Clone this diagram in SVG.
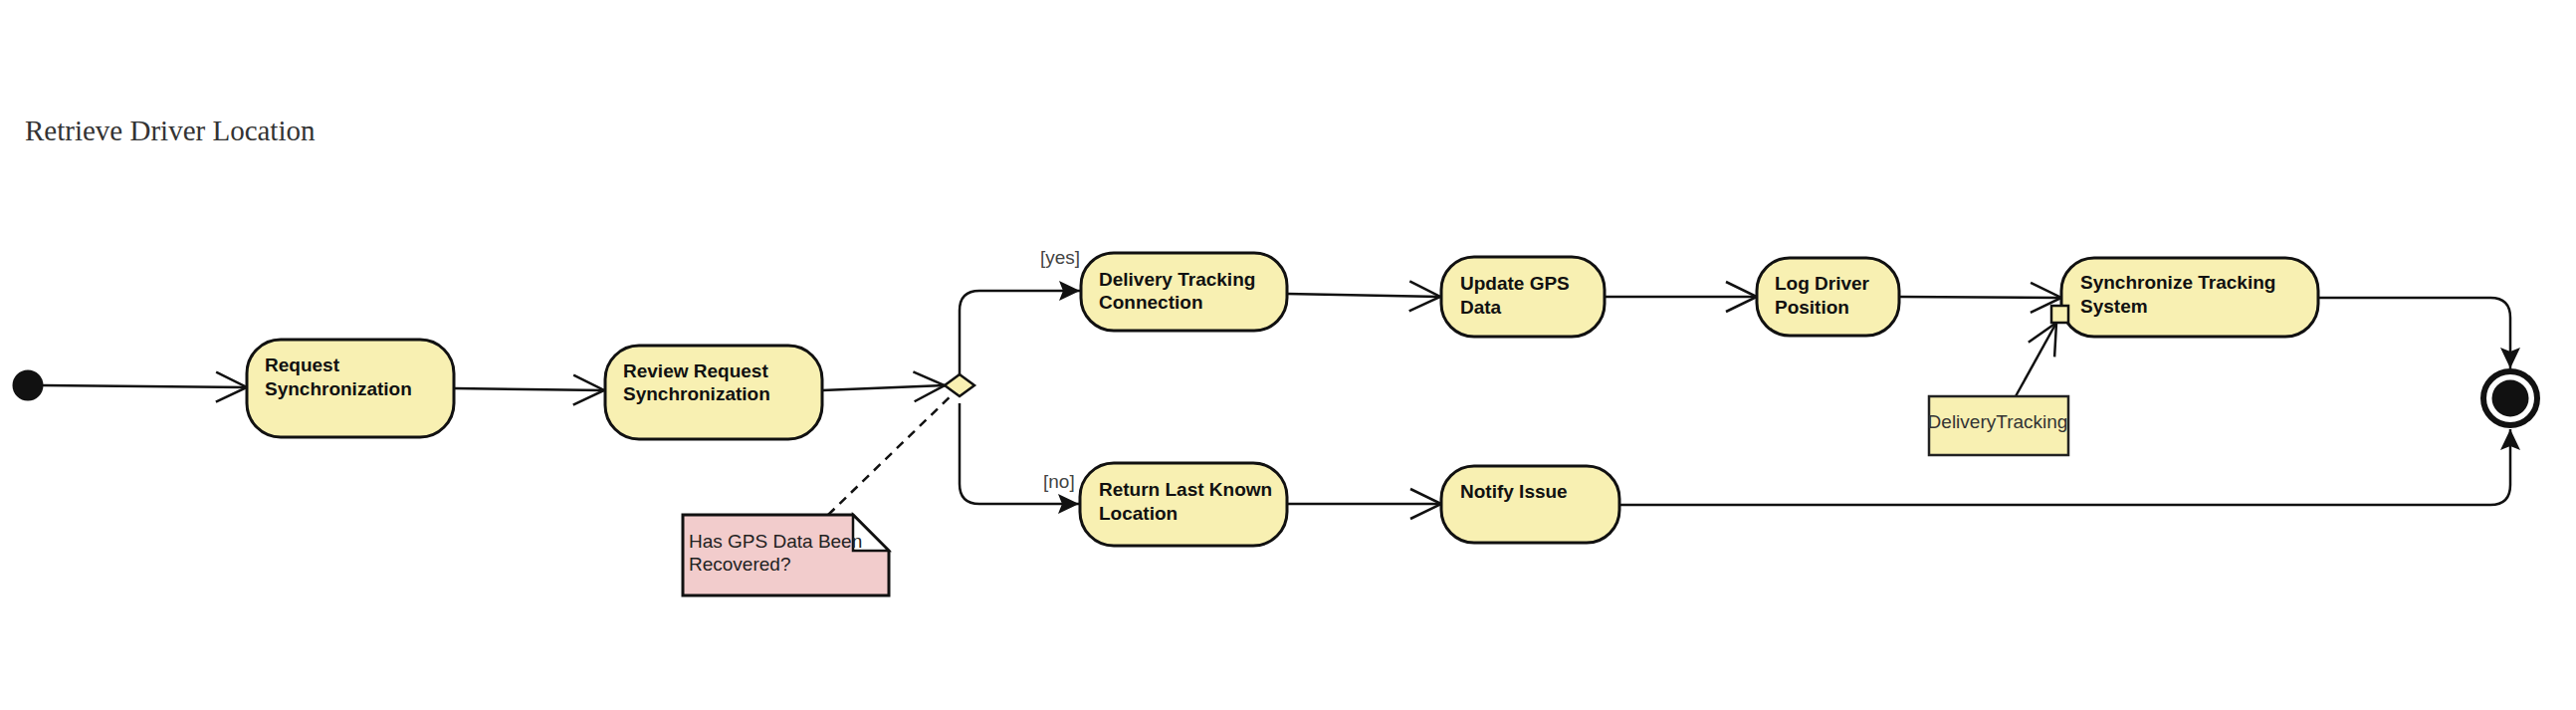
<svg xmlns="http://www.w3.org/2000/svg" width="2588" height="713" viewBox="0 0 2588 713">
<style>
.node{fill:#f8f0b2;stroke:#111;stroke-width:3}
.lbl{font-family:"Liberation Sans",Arial,sans-serif;font-size:19px;font-weight:bold;fill:#111}
.txt{font-family:"Liberation Sans",Arial,sans-serif;font-size:19px;fill:#222}
.guard{font-family:"Liberation Sans",Arial,sans-serif;font-size:19px;fill:#444}
.conn{fill:none;stroke:#111;stroke-width:2.5}
</style>
<defs>
<marker id="open" markerUnits="userSpaceOnUse" markerWidth="40" markerHeight="40" refX="0" refY="0" orient="auto" overflow="visible">
<path d="M-31,-15 L0,0 L-31,15" fill="none" stroke="#111" stroke-width="2.5"/>
</marker>
<marker id="filled" markerUnits="userSpaceOnUse" markerWidth="30" markerHeight="30" refX="0" refY="0" orient="auto" overflow="visible">
<path d="M-21,-10 L0,0 L-21,10 L-17,0 Z" fill="#111"/>
</marker>
</defs>
<rect width="2588" height="713" fill="#fff"/>
<text x="25" y="141" font-family="'Liberation Serif','Times New Roman',serif" font-size="29" fill="#333">Retrieve Driver Location</text>

<g id="connectors">
<path class="conn" d="M43,387 L248,389" marker-end="url(#open)"/>
<path class="conn" d="M456,390 L607,392" marker-end="url(#open)"/>
<path class="conn" d="M826,392 L949,387" marker-end="url(#open)"/>
<path class="conn" d="M964,376 L964,312 Q964,292 984,292 L1085,292" marker-end="url(#filled)"/>
<path class="conn" d="M964,405 L964,486 Q964,506 984,506 L1084,506" marker-end="url(#filled)"/>
<path class="conn" d="M1293,295 L1447,298" marker-end="url(#open)"/>
<path class="conn" d="M1612,298 L1765,298" marker-end="url(#open)"/>
<path class="conn" d="M1908,298 L2071,299" marker-end="url(#open)"/>
<path class="conn" d="M2329,299 L2502,299 Q2522,299 2522,319 L2522,370" marker-end="url(#filled)"/>
<path class="conn" d="M1293,506 L1448,506" marker-end="url(#open)"/>
<path class="conn" d="M1627,507 L2502,507 Q2522,507 2522,487 L2522,431" marker-end="url(#filled)"/>
<path class="conn" d="M2025,398 L2066,324" marker-end="url(#open)"/>
<path class="conn" d="M832,517 L958,395" stroke-dasharray="9,7"/>
<text class="guard" x="1045" y="265">[yes]</text>
<text class="guard" x="1048" y="490">[no]</text>
</g>

<g id="start"><circle cx="28" cy="387" r="15.5" fill="#111"/></g>

<g id="request-sync">
<rect class="node" x="248" y="341" width="208" height="98" rx="34"/>
<text class="lbl" x="266" y="373">Request</text>
<text class="lbl" x="266" y="397">Synchronization</text>
</g>

<g id="review-request">
<rect class="node" x="608" y="347" width="218" height="94" rx="34"/>
<text class="lbl" x="626" y="379">Review Request</text>
<text class="lbl" x="626" y="402">Synchronization</text>
</g>

<g id="decision">
<polygon points="949,387 964,376 979,387 964,398" fill="#f8f0b2" stroke="#111" stroke-width="2.5"/>
</g>

<g id="note">
<polygon points="686,517 857,517 893,553 893,598 686,598" fill="#f2cccc" stroke="#111" stroke-width="3"/>
<polygon points="857,517 893,553 857,553" fill="#fff" stroke="#111" stroke-width="2.5"/>
<text class="txt" x="692" y="550">Has GPS Data Been</text>
<text class="txt" x="692" y="573">Recovered?</text>
</g>

<g id="delivery-tracking-connection">
<rect class="node" x="1086" y="254" width="207" height="78" rx="33"/>
<text class="lbl" x="1104" y="287">Delivery Tracking</text>
<text class="lbl" x="1104" y="310">Connection</text>
</g>

<g id="return-last-known">
<rect class="node" x="1085" y="465" width="208" height="83" rx="34"/>
<text class="lbl" x="1104" y="498">Return Last Known</text>
<text class="lbl" x="1104" y="522">Location</text>
</g>

<g id="update-gps">
<rect class="node" x="1448" y="258" width="164" height="80" rx="33"/>
<text class="lbl" x="1467" y="291">Update GPS</text>
<text class="lbl" x="1467" y="315">Data</text>
</g>

<g id="notify-issue">
<rect class="node" x="1448" y="468" width="179" height="77" rx="33"/>
<text class="lbl" x="1467" y="500">Notify Issue</text>
</g>

<g id="log-driver">
<rect class="node" x="1765" y="259" width="143" height="78" rx="33"/>
<text class="lbl" x="1783" y="291">Log Driver</text>
<text class="lbl" x="1783" y="315">Position</text>
</g>

<g id="sync-tracking">
<rect class="node" x="2071" y="259" width="258" height="79" rx="33"/>
<text class="lbl" x="2090" y="290">Synchronize Tracking</text>
<text class="lbl" x="2090" y="314">System</text>
</g>

<g id="pin">
<rect x="2061" y="307" width="17" height="17" fill="#f8f0b2" stroke="#111" stroke-width="2.5"/>
</g>

<g id="delivery-tracking-object">
<rect x="1938" y="398" width="140" height="59" fill="#f8f0b2" stroke="#222" stroke-width="2.5"/>
<text x="2007" y="430" text-anchor="middle" font-family="'Liberation Sans',Arial,sans-serif" font-size="19" fill="#333">DeliveryTracking</text>
</g>

<g id="end">
<circle cx="2522" cy="400" r="27" fill="#fff" stroke="#111" stroke-width="6"/>
<circle cx="2522" cy="400" r="18.5" fill="#111"/>
</g>
</svg>
